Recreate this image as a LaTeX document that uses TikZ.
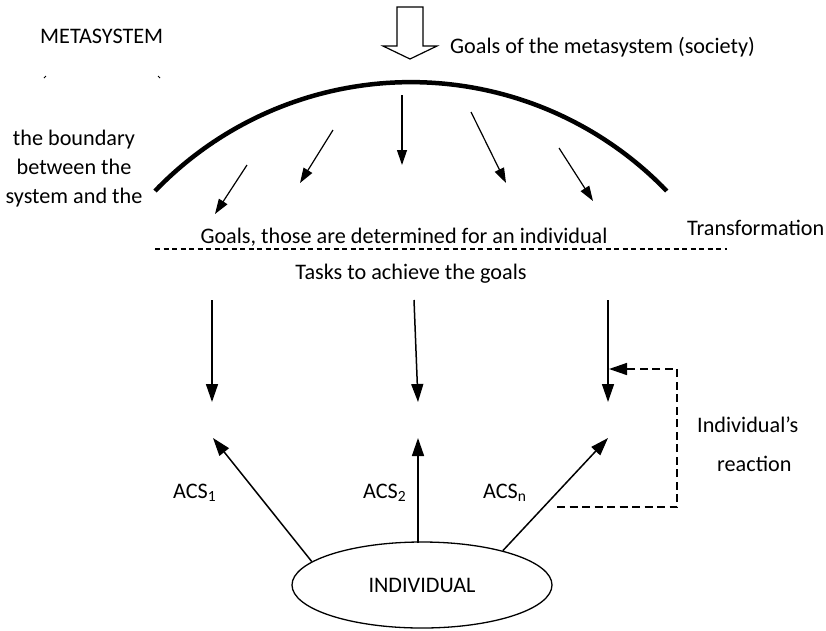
\documentclass[tikz,border=0pt]{standalone}
\usepackage{fontspec}
\setmainfont{Carlito}
\usetikzlibrary{arrows.meta,shapes.geometric}
\begin{document}
\begin{tikzpicture}[x=1pt,y=-1pt,
  font=\fontsize{22.2}{28}\selectfont,
  lbl/.style={inner sep=0pt, anchor=base west},
  clbl/.style={inner sep=0pt, anchor=base},
  small/.style={line width=1.2pt, -{Triangle[length=15pt,width=10pt]}},
  big/.style={line width=1.5pt, -{Triangle[length=18pt,width=12pt]}},
  fb/.style={line width=1.5pt, dash pattern=on 8pt off 4.5pt, -{Triangle[length=18pt,width=12pt]}},
  sep/.style={line width=1.3pt, dash pattern=on 5pt off 3.5pt}]
\useasboundingbox (0,0) rectangle (826,630);

% texts
\node[lbl] (meta) at (40,43) {METASYSTEM};
\node[lbl] (goalsmeta) at (450,53) {Goals of the metasystem (society)};
\node[clbl] (b1) at (74,145) {the boundary};
\node[clbl] (b2) at (74,174) {between the};
\node[clbl] (b3) at (74,203) {system and the};
\node[clbl] (goals) at (404,243) {Goals, those are determined for an individual};
\node[lbl] (transf) at (687,235) {Transformation};
\node[clbl] (tasks) at (411,279) {Tasks to achieve the goals};
\node[lbl] (acs1) at (173,498) {ACS\textsubscript{1}};
\node[lbl] (acs2) at (363,498) {ACS\textsubscript{2}};
\node[lbl] (acsn) at (483,498) {ACS\textsubscript{n}};
\node[lbl] (react1) at (697,432) {Individual's};
\node[lbl] (react2) at (717,471) {reaction};

% small clipped marks
\draw[line width=0.8pt] (44,78) -- (46,76);
\draw[line width=0.8pt] (158,76) -- (160,78);

% hollow arrow
\draw[line width=1.2pt] (397,7) -- (423,7) -- (423,46) -- (437,46) -- (410,59)
  -- (383,46) -- (397,46) -- cycle;

% boundary arc
\draw[line width=4.5pt] (155,191) arc[start angle=136.1, end angle=43.9, radius=355.1pt];

% arrows under the arc
\coordinate (a1s) at (247,165); \coordinate (a1e) at (215,214);
\coordinate (a2s) at (333,130); \coordinate (a2e) at (300,183);
\coordinate (a3s) at (402,95);  \coordinate (a3e) at (402,165);
\coordinate (a4s) at (471,112); \coordinate (a4e) at (506,183);
\coordinate (a5s) at (559,148); \coordinate (a5e) at (593,201);
\draw[small] (a1s) -- (a1e);
\draw[small] (a2s) -- (a2e);
\draw[small] (a3s) -- (a3e);
\draw[small] (a4s) -- (a4e);
\draw[small] (a5s) -- (a5e);

% separator
\coordinate (sl) at (155,249); \coordinate (sr) at (727,249);
\draw[sep] (sl) -- (sr);

% down arrows
\coordinate (d1s) at (212,300); \coordinate (d1e) at (212,402);
\coordinate (d2s) at (414,300); \coordinate (d2e) at (418,402);
\coordinate (d3s) at (608,300); \coordinate (d3e) at (608,402);
\draw[big] (d1s) -- (d1e);
\draw[big] (d2s) -- (d2e);
\draw[big] (d3s) -- (d3e);

% individual
\node[draw, ellipse, line width=1.3pt, minimum width=260pt, minimum height=86pt,
  inner sep=0pt] (ind) at (422,585) {};
\node[clbl] (indtxt) at (422,592) {INDIVIDUAL};

% up arrows
\coordinate (u1e) at (213,438);
\coordinate (u2s) at (418,543); \coordinate (u2e) at (418,438);
\coordinate (u3e) at (608,438);
\draw[big] (ind.168) -- (u1e);
\draw[big] (u2s) -- (u2e);
\draw[big] (ind.23.6) -- (u3e);

% feedback
\coordinate (f1) at (557,507); \coordinate (f2) at (677,507);
\coordinate (f3) at (677,369); \coordinate (f4) at (609,369);
\draw[fb] (f1) -- (f2) -- (f3) -- (f4);
\end{tikzpicture}
\end{document}
